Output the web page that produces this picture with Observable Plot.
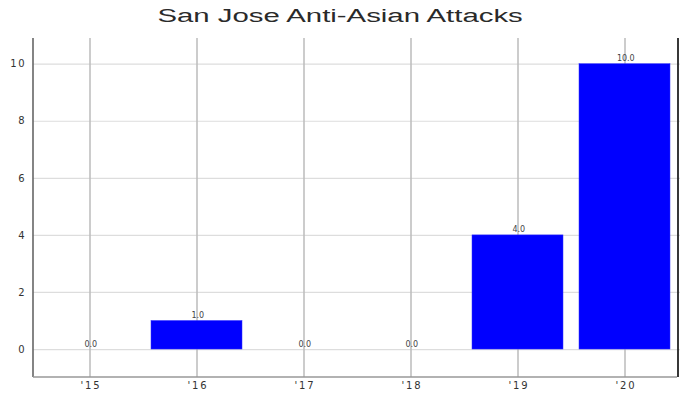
<!DOCTYPE html>
<html>
<head>
<meta charset="utf-8">
<script src="https://cdn.jsdelivr.net/npm/d3@7"></script>
<script src="https://cdn.jsdelivr.net/npm/@observablehq/plot@0.6"></script>
<style>
  html, body { margin: 0; padding: 0; background: #fff; }
  #title { width: 681px; height: 38px; text-align: center; font-family: "Liberation Sans", Arial, sans-serif; font-size: 18px; color: #2a2a2a; line-height: 32px; }
  #title span { display: inline-block; transform: scaleX(1.63); }
  svg text { font-family: "DejaVu Sans", sans-serif; }
</style>
</head>
<body>
<div id="title"><span>San Jose Anti-Asian Attacks</span></div>
<div id="chart"></div>
<script>
const years = ["'15", "'16", "'17", "'18", "'19", "'20"];
const attacks = [0, 1, 0, 0, 4, 10];
const yTicks = [0, 2, 4, 6, 8, 10];

const data = years.map((y, i) => ({year: y, count: attacks[i]}));

const chart = Plot.plot({
  width: 681,
  height: 355,
  marginTop: 0,
  marginLeft: 33,
  marginRight: 1,
  marginBottom: 16,
  style: {fontFamily: "DejaVu Sans, sans-serif", fontSize: "10px", color: "#333", background: "#fff"},
  x: {domain: years, paddingInner: 0.152, paddingOuter: 0.076, label: null, tickSize: 0, tickPadding: 4},
  y: {domain: [-0.98, 10.9], ticks: yTicks, label: null, tickSize: 0, tickPadding: 7},
  marks: [
    Plot.ruleY(yTicks, {stroke: "#dddddd", strokeWidth: 1.2}),
    Plot.ruleX(years, {stroke: "#bbbbbb", strokeWidth: 1.5}),
    Plot.barY(data, {x: "year", y: "count", fill: "#0000ff", stroke: "#3333ff", strokeWidth: 0.5}),
    Plot.text(data, {x: "year", y: "count", text: d => d.count.toFixed(1), dy: -3, dx: 0.8, lineAnchor: "bottom", fontSize: 8, fill: "#444", letterSpacing: "1.6px"})
  ]
});
document.getElementById("chart").appendChild(chart);

const svg = d3.select(chart.tagName.toLowerCase() === "svg" ? chart : chart.querySelector("svg"));
svg.selectAll("g[aria-label='x-axis tick label'] text").attr("letter-spacing", "1.8px").attr("dx", 0.9);
svg.selectAll("g[aria-label='y-axis tick label'] text").attr("letter-spacing", "1.8px");

const xs = chart.scale("x");
const ys = chart.scale("y");
const x0 = xs.range[0], x1 = xs.range[1];
const yb = ys.range[0], yt = ys.range[1];
const g = svg.append("g");
g.append("line").attr("x1", x0).attr("x2", x0).attr("y1", yt).attr("y2", yb).attr("stroke", "#666").attr("stroke-width", 1.6);
g.append("line").attr("x1", x0).attr("x2", x1 - 3).attr("y1", yb).attr("y2", yb).attr("stroke", "#999").attr("stroke-width", 1.6);
g.append("line").attr("x1", x1 - 2).attr("x2", x1 - 2).attr("y1", yt).attr("y2", yb).attr("stroke", "#222").attr("stroke-width", 1.8);
</script>
</body>
</html>
